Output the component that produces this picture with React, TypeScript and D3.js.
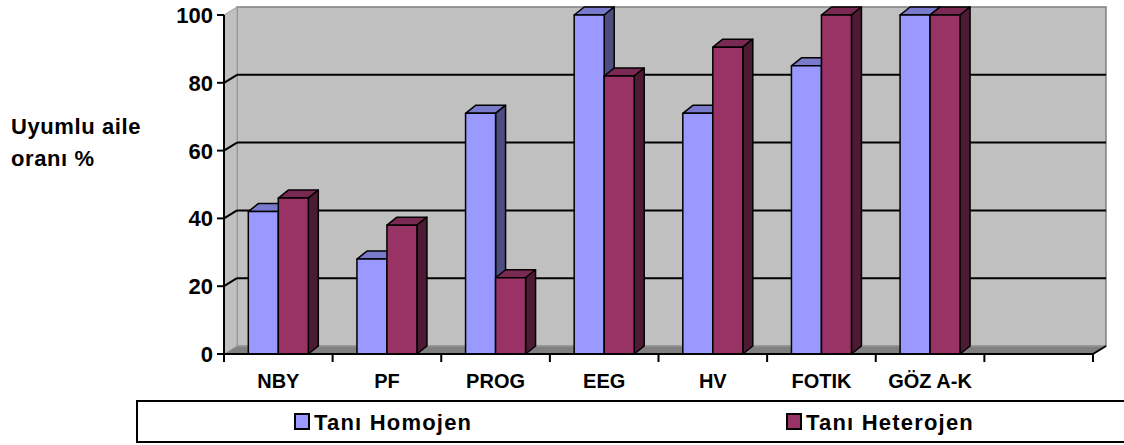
import React from "react";
import * as d3 from "d3";

const categories = ["NBY", "PF", "PROG", "EEG", "HV", "FOTIK", "GÖZ A-K", ""];
const seriesNames = ["Tanı Homojen", "Tanı Heterojen"];
const homojen = [42, 28, 71, 100, 71, 85, 100];
const heterojen = [46, 38, 22.5, 82, 90.5, 100, 100];
const yTicks = [0, 20, 40, 60, 80, 100];

const frontColors = ["#9999FF", "#993366"];
const topColors = ["#7a7acc", "#7a2952"];
const sideColors = ["#4d4d80", "#4d1a33"];

const FONT = "'Liberation Sans', Arial, sans-serif";

export default function App() {
  const W = 1124, H = 445;
  const x0 = 224, x1 = 1093;
  const yBase = 354, yTop = 15;
  const wdx = 13, wdy = -8; // wall depth
  const bdx = 10, bdy = -8; // bar depth

  const slotKeys = categories.map((c, i) => c + "_" + i);
  const x = d3.scaleBand<string>().domain(slotKeys).range([x0, x1]).padding(0);
  const y = d3.scaleLinear().domain([0, 100]).range([yBase, yTop]);
  const bw = 30;
  const inner = d3.scaleBand<string>().domain(seriesNames).range([0, bw * 2]).padding(0);

  const data = [homojen, heterojen];

  const bars: React.ReactNode[] = [];
  homojen.forEach((_, ci) => {
    const key = slotKeys[ci];
    const cx = (x(key) as number) + x.bandwidth() / 2;
    seriesNames.forEach((s, si) => {
      const v = data[si][ci];
      const bx = cx - bw + (inner(s) as number);
      const yt = y(v);
      const y0 = y(0);
      const w = inner.bandwidth();
      bars.push(
        <g key={`${ci}-${si}`} stroke="#000" strokeWidth={1.5} strokeLinejoin="round">
          <polygon
            points={`${bx},${yt} ${bx + bdx},${yt + bdy} ${bx + w + bdx},${yt + bdy} ${bx + w},${yt}`}
            fill={topColors[si]}
          />
          <polygon
            points={`${bx + w},${yt} ${bx + w + bdx},${yt + bdy} ${bx + w + bdx},${y0 + bdy} ${bx + w},${y0}`}
            fill={sideColors[si]}
          />
          <rect x={bx} y={yt} width={w} height={y0 - yt} fill={frontColors[si]} />
        </g>
      );
    });
  });

  return (
    <svg width={W} height={H} style={{ position: "absolute", left: 0, top: 0, background: "#fff" }}>
      {/* back wall */}
      <rect x={x0 + wdx} y={yTop + wdy} width={x1 - x0} height={yBase - yTop} fill="#c0c0c0" stroke="#808080" strokeWidth={1.5} />
      {/* left side wall */}
      <polygon
        points={`${x0},${yTop} ${x0 + wdx},${yTop + wdy} ${x0 + wdx},${yBase + wdy} ${x0},${yBase}`}
        fill="#c0c0c0"
        stroke="#a0a0a0"
        strokeWidth={1}
      />
      {/* floor */}
      <polygon
        points={`${x0},${yBase} ${x0 + wdx},${yBase + wdy} ${x1 + wdx},${yBase + wdy} ${x1},${yBase}`}
        fill="#808080"
        stroke="#a0a0a0"
        strokeWidth={1}
      />
      {/* gridlines */}
      {yTicks.filter((t) => t > 0 && t < 100).map((t) => (
        <g key={t} stroke="#000" strokeWidth={2}>
          <line x1={x0 + wdx} x2={x1 + wdx} y1={y(t) + wdy} y2={y(t) + wdy} />
          <line x1={x0} x2={x0 + wdx} y1={y(t)} y2={y(t) + wdy} />
        </g>
      ))}
      {bars}
      {/* y axis */}
      <line x1={x0} x2={x0} y1={yTop} y2={yBase} stroke="#000" strokeWidth={2} />
      {yTicks.map((t) => (
        <g key={t}>
          <line x1={x0 - 7} x2={x0} y1={y(t)} y2={y(t)} stroke="#000" strokeWidth={2} />
          <text x={213} y={y(t)} dy="0.36em" textAnchor="end" fontFamily={FONT} fontWeight="bold" fontSize={22}>
            {t}
          </text>
        </g>
      ))}
      {/* x axis */}
      <line x1={x0} x2={x1} y1={yBase} y2={yBase} stroke="#000" strokeWidth={2} />
      <line x1={x1} x2={x1 + wdx} y1={yBase} y2={yBase + wdy} stroke="#000" strokeWidth={2} />
      {slotKeys.map((k, i) => (
        <line key={"t" + i} x1={x(k) as number} x2={x(k) as number} y1={yBase} y2={yBase + 8} stroke="#000" strokeWidth={2} />
      ))}
      <line x1={x1} x2={x1} y1={yBase} y2={yBase + 8} stroke="#000" strokeWidth={2} />
      {categories.map((c, i) => (
        <text
          key={"l" + i}
          x={(x(slotKeys[i]) as number) + x.bandwidth() / 2}
          y={388}
          textAnchor="middle"
          fontFamily={FONT}
          fontWeight="bold"
          fontSize={20}
        >
          {c}
        </text>
      ))}
      {/* y title */}
      <text fontFamily={FONT} fontWeight="bold" fontSize={22} letterSpacing={0.6}>
        <tspan x={11} y={134}>Uyumlu aile</tspan>
        <tspan x={11} y={166}>oranı %</tspan>
      </text>
      {/* legend */}
      <rect x={137} y={401} width={1000} height={41} fill="#fff" stroke="#000" strokeWidth={2} />
      {seriesNames.map((s, i) => {
        const lx = i === 0 ? 295 : 787;
        return (
          <g key={s}>
            <rect x={lx} y={414} width={14} height={15} fill={frontColors[i]} stroke="#000" strokeWidth={2} />
            <text x={lx + 19} y={430} fontFamily={FONT} fontWeight="bold" fontSize={22} letterSpacing={1.2}>
              {s}
            </text>
          </g>
        );
      })}
    </svg>
  );
}
